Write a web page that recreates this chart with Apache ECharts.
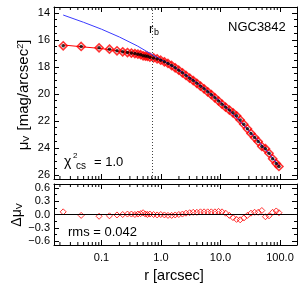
<!DOCTYPE html>
<html><head><meta charset="utf-8">
<script src="https://cdn.jsdelivr.net/npm/echarts@6/dist/echarts.min.js"></script>
<style>html,body{margin:0;padding:0;background:#fff}#c{width:300px;height:285px}</style>
</head><body><div id="c"></div>
<script>
// ---- data ----
const radius = [0.0227,0.0455,0.091,0.136,0.182,0.227,0.273,0.318,0.364,0.409,0.455,0.5,0.546,0.591,0.65,0.75,0.86,0.99,1.14,1.31,1.51,1.73,1.99,2.29,2.63,3.03,3.48,4.0,4.6,5.29,6.09,7.0,8.05,9.26,10.6,12.2,14.1,16.2,18.6,21.4,24.6,28.3,32.5,37.4,43.0,49.5,56.9,65.4,75.2,86.5,96.0];
const muData = [16.43,16.48,16.58,16.68,16.80,16.88,16.93,16.97,17.01,17.05,17.09,17.17,17.19,17.21,17.27,17.33,17.40,17.50,17.62,17.74,17.89,18.06,18.24,18.43,18.63,18.83,19.01,19.21,19.42,19.62,19.84,20.05,20.28,20.52,20.76,20.98,21.19,21.40,21.62,21.92,22.24,22.58,22.92,23.23,23.53,23.89,24.05,24.39,24.80,25.16,25.37];
const muModel = [16.37,16.50,16.62,16.71,16.81,16.88,16.92,16.96,17.01,17.04,17.07,17.13,17.18,17.21,17.26,17.33,17.41,17.50,17.63,17.76,17.91,18.07,18.24,18.42,18.60,18.79,18.96,19.16,19.36,19.56,19.78,19.99,20.22,20.45,20.70,20.95,21.21,21.47,21.73,22.04,22.32,22.60,22.89,23.18,23.48,23.80,24.10,24.42,24.75,25.08,25.33];
const residual = [0.06,-0.02,-0.04,-0.03,-0.01,0.00,0.01,0.01,0.00,0.01,0.02,0.04,0.01,0.00,0.01,0.00,-0.01,0.00,-0.01,-0.02,-0.02,-0.01,0.00,0.01,0.03,0.04,0.05,0.05,0.06,0.06,0.06,0.06,0.06,0.07,0.06,0.03,-0.02,-0.07,-0.11,-0.12,-0.08,-0.02,0.03,0.05,0.05,0.09,-0.05,-0.03,0.05,0.08,0.04];
const sersicR = [0.0227,0.05,0.1,0.2,0.4,0.7,1.0,1.5,2.0,3.0,5.0,10,20,40,70,96];
const sersicMu = [14.15,14.69,15.20,15.78,16.44,17.07,17.46,17.88,18.24,18.77,19.48,20.59,21.89,23.32,24.57,25.33];
const breakRadius = 0.71;
const xMinorTicks = [0.02,0.03,0.04,0.05,0.06,0.07,0.08,0.09,0.2,0.3,0.4,0.5,0.6,0.7,0.8,0.9,2,3,4,5,6,7,8,9,20,30,40,50,60,70,80,90];
const galaxy = 'NGC3842';
const chi2Text = '1.0';
const rmsText = '0.042';

// ---- layout ----
const X_MIN = 0.0159, X_MAX = 193;
const Y1_MIN = 13.556, Y1_MAX = 26.3;
const Y2_MIN = -0.69, Y2_MAX = 0.69;
const FONT = 'Liberation Sans, Arial, sans-serif';
const axisCol = '#000';

const zip = (a, b) => a.map((v, i) => [v, b[i]]);

function xAxisDef(gridIndex, position, showLabel) {
  return {
    type: 'log', logBase: 10, gridIndex, position, min: X_MIN, max: X_MAX,
    axisLine: {show: true, onZero: false, lineStyle: {color: axisCol, width: 1}},
    axisTick: {show: true, inside: true, length: 5, lineStyle: {color: axisCol}},
    minorTick: {show: false},
    splitLine: {show: false},
    axisLabel: {
      show: showLabel, margin: 7, color: '#000', fontFamily: FONT, fontSize: 11,
      formatter: v => {
        const e = Math.log10(v);
        if (Math.abs(e - Math.round(e)) > 1e-6) return '';
        return Math.pow(10, Math.round(e)).toFixed(1);
      }
    }
  };
}
function yAxisDef(gridIndex, position, showLabel, min, max, inverse, minorSplit, splitNumber, formatter) {
  return {
    type: 'value', gridIndex, position, min, max, inverse, splitNumber,
    axisLine: {show: true, onZero: false, lineStyle: {color: axisCol, width: 1}},
    axisTick: {show: true, inside: true, length: 5, lineStyle: {color: axisCol}},
    minorTick: {show: true, splitNumber: minorSplit, length: 3, lineStyle: {color: axisCol}},
    splitLine: {show: false},
    axisLabel: {show: showLabel, margin: 4, color: '#000', fontFamily: FONT, fontSize: 11, formatter}
  };
}
const fmtTop = v => {
  const r = Math.round(v);
  return (Math.abs(v - r) < 1e-6 && r % 2 === 0) ? String(r) : '';
};
const fmtBot = v => {
  const k = v / 0.3;
  if (Math.abs(k - Math.round(k)) > 1e-6) return '';
  const s = Math.abs(v).toFixed(1);
  return v < -1e-9 ? '\u2212' + s : s;
};

function minorTickSeries(xAxisIndex, yAxisIndex, yLow, yHigh) {
  return {
    type: 'custom', xAxisIndex, yAxisIndex, silent: true, z: 10,
    data: xMinorTicks.map(v => [v, yLow]),
    renderItem: (params, api) => {
      const v = api.value(0);
      const pb = api.coord([v, yLow]);
      const pt = api.coord([v, yHigh]);
      const dirB = pb[1] > pt[1] ? -1 : 1;
      return {
        type: 'group', children: [
          {type: 'line', shape: {x1: pb[0], y1: pb[1], x2: pb[0], y2: pb[1] + dirB * 3}, style: {stroke: axisCol, lineWidth: 1}},
          {type: 'line', shape: {x1: pt[0], y1: pt[1], x2: pt[0], y2: pt[1] - dirB * 3}, style: {stroke: axisCol, lineWidth: 1}}
        ]
      };
    }
  };
}

const chart = echarts.init(document.getElementById('c'), null, {renderer: 'canvas'});
const option = {
  animation: false,
  backgroundColor: '#fff',
  grid: [
    {left: 54, top: 7, width: 243, height: 172},
    {left: 54, top: 184, width: 243, height: 61}
  ],
  xAxis: [
    xAxisDef(0, 'bottom', false),
    xAxisDef(0, 'top', false),
    xAxisDef(1, 'bottom', true),
    xAxisDef(1, 'top', false)
  ],
  yAxis: [
    yAxisDef(0, 'left', true, Y1_MIN, Y1_MAX, true, 4, 6, fmtTop),
    yAxisDef(0, 'right', false, Y1_MIN, Y1_MAX, true, 4, 6, fmtTop),
    yAxisDef(1, 'left', true, Y2_MIN, Y2_MAX, false, 2, 5, fmtBot),
    yAxisDef(1, 'right', false, Y2_MIN, Y2_MAX, false, 2, 5, fmtBot)
  ],
  series: [
    {
      name: 'data', type: 'scatter', xAxisIndex: 0, yAxisIndex: 0, z: 2,
      data: zip(radius, muData), symbol: 'diamond', symbolSize: 8,
      itemStyle: {color: 'rgba(0,0,0,0)', borderColor: '#ff0000', borderWidth: 1.6}
    },
    {
      name: 'model', type: 'line', xAxisIndex: 0, yAxisIndex: 0, z: 3,
      data: zip(radius, muModel), showSymbol: false, symbol: 'none',
      lineStyle: {color: '#ff0000', width: 1},
      markLine: {
        silent: true, symbol: 'none', label: {show: false},
        lineStyle: {color: '#444', type: [1, 2], width: 1},
        data: [{xAxis: breakRadius}]
      }
    },
    {
      name: 'sersic', type: 'line', xAxisIndex: 0, yAxisIndex: 0, z: 4,
      data: zip(sersicR, sersicMu), showSymbol: false, symbol: 'none',
      lineStyle: {color: '#3a3aff', width: 1}
    },
    {
      name: 'dataCore', type: 'scatter', xAxisIndex: 0, yAxisIndex: 0, z: 5,
      data: zip(radius, muData), symbol: 'circle', symbolSize: 3.5,
      itemStyle: {color: '#000'}
    },
    {
      name: 'residual', type: 'scatter', xAxisIndex: 2, yAxisIndex: 2, z: 3,
      data: zip(radius, residual), symbol: 'diamond', symbolSize: 6,
      itemStyle: {color: 'rgba(0,0,0,0)', borderColor: '#ff0000', borderWidth: 1},
      markLine: {
        silent: true, symbol: 'none', label: {show: false},
        lineStyle: {color: '#000', type: 'solid', width: 1},
        data: [{yAxis: 0}]
      }
    },
    minorTickSeries(0, 0, Y1_MAX, Y1_MIN),
    minorTickSeries(2, 2, Y2_MIN, Y2_MAX)
  ],
  graphic: [
    {type: 'text', x: 228, y: 27, style: {text: galaxy, font: '13px ' + FONT, fill: '#000', textVerticalAlign: 'middle'}},
    {type: 'text', x: 149, y: 29, style: {text: 'r', font: '13px ' + FONT, fill: '#000', textVerticalAlign: 'middle'}},
    {type: 'text', x: 154, y: 33, style: {text: 'b', font: '9px ' + FONT, fill: '#000', textVerticalAlign: 'middle'}},
    {type: 'text', x: 64, y: 162, style: {text: '\u03c7', font: '14px ' + FONT, fill: '#000', textVerticalAlign: 'middle'}},
    {type: 'text', x: 73, y: 156, style: {text: '2', font: '8px ' + FONT, fill: '#000', textVerticalAlign: 'middle'}},
    {type: 'text', x: 76, y: 166, style: {text: 'cs', font: '10px ' + FONT, fill: '#000', textVerticalAlign: 'middle'}},
    {type: 'text', x: 94, y: 162, style: {text: '= ' + chi2Text, font: '13px ' + FONT, fill: '#000', textVerticalAlign: 'middle'}},
    {type: 'text', x: 68, y: 232, style: {text: 'rms = ' + rmsText, font: '13px ' + FONT, fill: '#000', textVerticalAlign: 'middle'}},
    {type: 'text', x: 174, y: 276, style: {text: 'r [arcsec]', font: '14.5px ' + FONT, fill: '#000', textAlign: 'center', textVerticalAlign: 'middle'}},
    {type: 'text', x: 24, y: 95, rotation: Math.PI / 2,
      style: {text: '\u03bc{sub|V} [mag/arcsec{sup|2}]', font: '15px ' + FONT, fill: '#000', textAlign: 'center', textVerticalAlign: 'middle',
        rich: {sub: {fontSize: 9, fontFamily: FONT, verticalAlign: 'bottom', padding: [6, 1, 0, 0]}, sup: {fontSize: 9, fontFamily: FONT, verticalAlign: 'top', padding: [0, 0, 6, 0]}}}},
    {type: 'text', x: 17, y: 215, rotation: Math.PI / 2,
      style: {text: '\u0394\u03bc{sub|V}', font: '14px ' + FONT, fill: '#000', textAlign: 'center', textVerticalAlign: 'middle',
        rich: {sub: {fontSize: 9, fontFamily: FONT, verticalAlign: 'bottom', padding: [6, 0, 0, 0]}}}}
  ]
};
chart.setOption(option);
</script></body></html>
